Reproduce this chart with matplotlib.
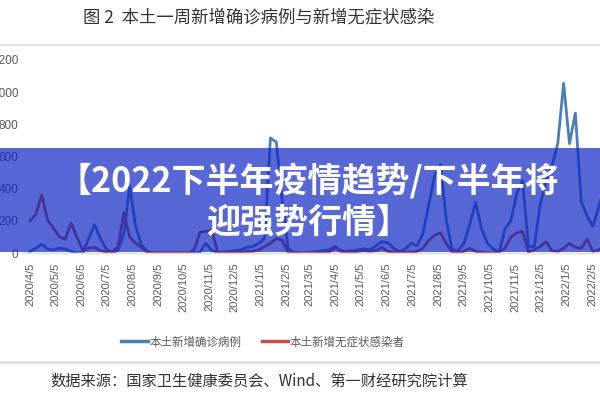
import numpy as np
import pandas as pd
import matplotlib
matplotlib.use("Agg")
import matplotlib.pyplot as plt
from matplotlib.patches import Rectangle
from matplotlib.lines import Line2D

plt.rcParams['font.family'] = ['Noto Sans CJK SC', 'DejaVu Sans']

# weekly data starting 2020/4/5
start = pd.Timestamp("2020-04-05")
confirmed = [10, 30, 55, 25, 20, 30, 25, 10, 2, 0,
             90, 175, 90, 25, 3, 15, 120, 415, 170, 50,
             10, 0, 0, 0, 0, 0, 0, 0, 2, 5,
             60, 15, 5, 5, 10, 15, 20, 35, 40, 60,
             90, 715, 690, 330, 30, 5, 0, 0, 5, 10,
             15, 20, 40, 15, 10, 15, 20, 25, 20, 45,
             70, 65, 30, 10, 25, 60, 45, 120, 300, 480,
             550, 200, 20, 15, 60, 180, 315, 150, 60, 25,
             5, 150, 200, 370, 450, 40, 40, 300, 450, 540,
             680, 1055, 680, 870, 320, 230, 165, 290, 400]
asymptomatic = [200, 240, 360, 205, 155, 100, 85, 185, 100, 15,
                30, 35, 15, 5, 5, 40, 250, 100, 60, 35,
                5, 0, 0, 0, 0, 0, 0, 0, 20, 130,
                135, 140, 5, 0, 0, 5, 5, 10, 10, 20,
                40, 60, 90, 80, 5, 0, 0, 0, 0, 0,
                0, 5, 35, 10, 5, 5, 10, 15, 10, 15,
                35, 10, 5, 5, 5, 5, 10, 30, 80, 110,
                125, 60, 5, 0, 10, 30, 10, 5, 0, 0,
                5, 30, 100, 125, 135, 5, 20, 40, 70, 15,
                10, 30, 60, 35, 30, 85, 10, 20, 40]
weeks = pd.date_range(start, periods=len(confirmed), freq="7D")

tick_dates = pd.date_range("2020-04-01", "2022-02-01", freq="MS") + pd.Timedelta(days=4)
tick_labels = [f"{d.year}/{d.month}/{d.day}" for d in tick_dates]
y_ticks = [0, 200, 400, 600, 800, 1000, 1200]

title = "图 2  本土一周新增确诊病例与新增无症状感染"
source = "数据来源：国家卫生健康委员会、Wind、第一财经研究院计算"
banner = "【2022下半年疫情趋势/下半年将\n迎强势行情】"
names = ["本土新增确诊病例", "本土新增无症状感染者"]

blue = "#4a7ebb"
red = "#c0504d"
gray = "#595959"

fig = plt.figure(figsize=(6, 4), dpi=100)
W, H = 600, 400
ax = fig.add_axes([22 / W, (H - 253) / H, (W - 22) / W, (253 - 60) / H])

ax.plot(weeks, confirmed, color=blue, lw=2.0, solid_joinstyle='round')
ax.plot(weeks, asymptomatic, color=red, lw=2.0, solid_joinstyle='round')

px_per_day = 25.5 / 30.44
left = start - pd.Timedelta(days=8 / px_per_day)
ax.set_xlim(left, left + pd.Timedelta(days=578 / px_per_day))
ax.set_ylim(0, 1200)

ax.set_xticks(tick_dates)
ax.set_xticklabels(tick_labels, rotation=90, fontsize=8, color=gray,
                   family=['Liberation Sans', 'DejaVu Sans'])
ax.set_yticks(y_ticks)
ax.set_yticklabels([str(v) for v in y_ticks], fontsize=8.5, color=gray,
                   family=['Liberation Sans', 'DejaVu Sans'])
ax.tick_params(axis='x', length=0, pad=7)
ax.tick_params(axis='y', length=0, pad=2.5)
for s in ['top', 'right', 'left']:
    ax.spines[s].set_visible(False)
ax.spines['bottom'].set_color('#d9d9d9')
ax.spines['bottom'].set_linewidth(1)

# title and separators
fig.text(259 / W, 1 - 17 / H, title, ha='center', va='center', fontsize=12.5, color='#333333')
fig.add_artist(Line2D([0, 1], [1 - 45 / H, 1 - 45 / H], color='#e0e0e0', lw=1.2))
fig.add_artist(Line2D([0, 1], [1 - 362 / H, 1 - 362 / H], color='#e0e0e0', lw=2))
fig.text(259 / W, 1 - 381 / H, source, ha='center', va='center', fontsize=11, color='#333333')

# legend
handles = [Line2D([], [], color=blue, lw=2.5), Line2D([], [], color=red, lw=2.5)]
fig.legend(handles, names, loc='center', bbox_to_anchor=(263 / W, 1 - 342 / H), ncol=2,
           frameon=False, fontsize=8.3, labelcolor=gray, handlelength=2.3,
           handletextpad=0.1, columnspacing=1.8)

# overlay banner
fig.add_artist(Rectangle((0, 1 - 252 / H), 1, 104 / H, transform=fig.transFigure,
                         facecolor=(16 / 255, 38 / 255, 196 / 255), alpha=0.7,
                         edgecolor='none', zorder=5))
fig.text(308 / W, 1 - 201 / H, banner, ha='center', va='center', fontsize=24.5,
         fontweight='bold', color='white', linespacing=1.2, zorder=6)

fig.savefig("out.png", dpi=100)
